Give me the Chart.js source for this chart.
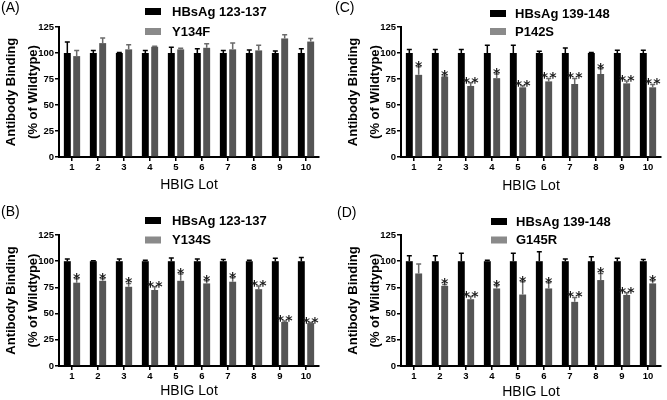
<!DOCTYPE html>
<html lang="en">
<head>
<meta charset="UTF-8" />
<title>Antibody binding by HBIG lot</title>
<style>
  body { margin: 0; background: #fff; }
  canvas { position: absolute; }
</style>
</head>
<body>
<canvas id="chartA" width="333" height="200" style="left:0;top:0"></canvas>
<canvas id="chartC" width="334" height="200" style="left:333px;top:0"></canvas>
<canvas id="chartB" width="333" height="200" style="left:0;top:200px"></canvas>
<canvas id="chartD" width="334" height="200" style="left:333px;top:200px"></canvas>
<script src="https://cdn.jsdelivr.net/npm/chart.js"></script>
<script>
// HBIG lots on the x axis
const lots = ['1', '2', '3', '4', '5', '6', '7', '8', '9', '10'];
const yTicks = [0, 25, 50, 75, 100, 125];

// wildtype peptide is 100% by definition
const wildtype = [100, 100, 100, 100, 100, 100, 100, 100, 100, 100];

// (A) HBsAg 123-137 vs Y134F
const wtErrA = [10.5, 2.5, 0.5, 2.5, 5.5, 4, 2.5, 3, 2, 4];
const y134f = [97, 109.5, 103.5, 106, 103.5, 105, 103.5, 102.5, 114, 111];
const y134fErr = [5.5, 5, 4.5, 0.5, 1, 4, 6, 5, 3.5, 3];

// (B) HBsAg 123-137 vs Y134S
const wtErrB = [2, 0.5, 2, 1, 3, 2, 1.7, 1, 2.7, 3.6];
const y134s = [79.5, 81.3, 75.6, 72.5, 81.3, 78.8, 80.4, 73.3, 42, 41];
const y134sErr = [3.7, 2, 3.2, 3.2, 6.4, 2.5, 3.8, 3, 1, 0.5];
const starsB = ['*', '*', '*', '**', '*', '*', '*', '**', '**', '**'];

// (C) HBsAg 139-148 vs P142S
const wtErrC = [3.3, 3.3, 3.3, 7.5, 7.5, 1.7, 4.9, 0.4, 2.7, 2.7];
const p142s = [79, 77.3, 68.3, 75.8, 67, 72.7, 70.2, 79.8, 70.8, 67];
const p142sErr = [7.8, 0.6, 3.2, 4, 1.6, 2.9, 5.4, 5, 2.2, 2.8];
const starsC = ['*', '*', '**', '*', '**', '**', '**', '*', '**', '**'];

// (D) HBsAg 139-148 vs G145R
const wtErrD = [5.2, 5.2, 7.5, 1, 7.5, 9, 2, 4.3, 2.7, 1.7];
const g145r = [88.3, 76.5, 63.7, 74, 68.2, 74, 61.2, 82, 67.8, 78.8];
const g145rErr = [9, 1.3, 2.5, 2.5, 12.2, 5.4, 4.2, 6.3, 2, 2.5];
const starsD = ['', '*', '**', '*', '*', '*', '**', '*', '**', '*'];

const TICK_FONT = { family: 'Liberation Sans, Arial, sans-serif', size: 9.5, weight: 'bold' };

const extras = {
  id: 'extras',
  afterDatasetsDraw(chart) {
    const ctx = chart.ctx;
    const y = chart.scales.y;
    ctx.save();
    chart.data.datasets.forEach((ds, i) => {
      const meta = chart.getDatasetMeta(i);
      meta.data.forEach((bar, j) => {
        const top = y.getPixelForValue(ds.data[j] + ds.err[j]);
        ctx.strokeStyle = ds.errColor;
        ctx.lineWidth = 1.5;
        ctx.beginPath();
        ctx.moveTo(bar.x, bar.y);
        ctx.lineTo(bar.x, top);
        ctx.moveTo(bar.x - 2.5, top);
        ctx.lineTo(bar.x + 2.5, top);
        ctx.stroke();
        const s = ds.stars ? ds.stars[j] : '';
        if (s) {
          ctx.fillStyle = '#1a1a1a';
          ctx.font = 'bold 14px "DejaVu Sans", sans-serif';
          ctx.textAlign = 'center';
          ctx.textBaseline = 'alphabetic';
          const gap = 8.5;
          const x0 = bar.x - (s.length - 1) * gap / 2;
          for (let k = 0; k < s.length; k++) {
            ctx.fillText(s[k], x0 + k * gap, top + 4);
          }
        }
      });
    });
    ctx.restore();
  },
  afterDraw(chart, args, opts) {
    const ctx = chart.ctx;
    ctx.save();
    // panel letter
    ctx.fillStyle = '#000';
    ctx.font = '14px "Liberation Sans", Arial, sans-serif';
    ctx.textAlign = 'left';
    ctx.textBaseline = 'middle';
    ctx.fillText(opts.tag, opts.tagX, opts.tagY);
    // legend
    ctx.font = 'bold 13px "Liberation Sans", Arial, sans-serif';
    chart.data.datasets.forEach((ds, i) => {
      const cy = opts.legendY[i];
      ctx.fillStyle = ds.legendColor;
      ctx.fillRect(opts.swatchX, cy - 3.5, 16, 7);
      ctx.fillStyle = '#000';
      ctx.fillText(ds.label, opts.textX, cy + 0.5);
    });
    ctx.restore();
  }
};

function makePanel(id, cfg) {
  const canvas = document.getElementById(id);
  const W = canvas.width, H = canvas.height;
  new Chart(canvas, {
    type: 'bar',
    data: {
      labels: lots,
      datasets: [
        {
          label: cfg.wtLabel,
          data: wildtype,
          err: cfg.wtErr,
          backgroundColor: '#000',
          legendColor: '#000',
          errColor: '#000',
          categoryPercentage: 0.72,
          barPercentage: 0.74
        },
        {
          label: cfg.mutLabel,
          data: cfg.mut,
          err: cfg.mutErr,
          stars: cfg.stars,
          backgroundColor: '#555',
          legendColor: '#8a8a8a',
          errColor: '#6a6a6a',
          categoryPercentage: 0.72,
          barPercentage: 0.74
        }
      ]
    },
    options: {
      responsive: false,
      animation: false,
      layout: {
        padding: { top: cfg.top, bottom: 0, left: cfg.axisX - 59, right: W - cfg.right }
      },
      plugins: {
        legend: { display: false },
        tooltip: { enabled: false },
        extras: cfg.deco
      },
      scales: {
        x: {
          offset: true,
          afterFit: s => { s.height = H - cfg.bottom; },
          grid: { offset: false, drawOnChartArea: false, tickLength: 4, color: '#000', lineWidth: 1.5 },
          border: { color: '#000', width: 2 },
          ticks: { color: '#000', font: TICK_FONT, padding: 1, maxRotation: 0 },
          title: {
            display: true,
            text: 'HBIG Lot',
            color: '#000',
            font: { family: 'Liberation Sans, Arial, sans-serif', size: 14, lineHeight: 1.2 },
            padding: { top: 0, bottom: cfg.xTitlePad }
          }
        },
        y: {
          min: 0,
          max: 125,
          afterBuildTicks: s => { s.ticks = yTicks.map(v => ({ value: v })); },
          afterFit: s => { s.width = 59; },
          grid: { drawOnChartArea: false, tickLength: 4, color: '#000', lineWidth: 1.5 },
          border: { color: '#000', width: 2 },
          ticks: { color: '#000', font: TICK_FONT, padding: 1 },
          title: {
            display: true,
            text: ['Antibody Binding', '(% of Wildtype)'],
            color: '#000',
            font: { family: 'Liberation Sans, Arial, sans-serif', size: 13, weight: 'bold', lineHeight: 1.65 },
            padding: { top: 1, bottom: 0 }
          }
        }
      }
    },
    plugins: [extras]
  });
}

makePanel('chartA', {
  wtLabel: 'HBsAg 123-137', mutLabel: 'Y134F',
  wtErr: wtErrA, mut: y134f, mutErr: y134fErr, stars: null,
  axisX: 59, right: 319, top: 27, bottom: 157, xTitlePad: 6.5,
  deco: { tag: '(A)', tagX: 1, tagY: 8, swatchX: 145, textX: 172, legendY: [11.5, 31.5] }
});
makePanel('chartC', {
  wtLabel: 'HBsAg 139-148', mutLabel: 'P142S',
  wtErr: wtErrC, mut: p142s, mutErr: p142sErr, stars: starsC,
  axisX: 68, right: 328, top: 27, bottom: 157, xTitlePad: 5.5,
  deco: { tag: '(C)', tagX: 2, tagY: 8, swatchX: 157, textX: 182, legendY: [13.5, 31.5] }
});
makePanel('chartB', {
  wtLabel: 'HBsAg 123-137', mutLabel: 'Y134S',
  wtErr: wtErrB, mut: y134s, mutErr: y134sErr, stars: starsB,
  axisX: 59, right: 319, top: 35, bottom: 166, xTitlePad: 0.5,
  deco: { tag: '(B)', tagX: 1, tagY: 12, swatchX: 145, textX: 172, legendY: [20.5, 40] }
});
makePanel('chartD', {
  wtLabel: 'HBsAg 139-148', mutLabel: 'G145R',
  wtErr: wtErrD, mut: g145r, mutErr: g145rErr, stars: starsD,
  axisX: 68, right: 328, top: 35, bottom: 166, xTitlePad: -0.5,
  deco: { tag: '(D)', tagX: 4, tagY: 13, swatchX: 158, textX: 183, legendY: [21.5, 40] }
});
</script>
</body>
</html>
